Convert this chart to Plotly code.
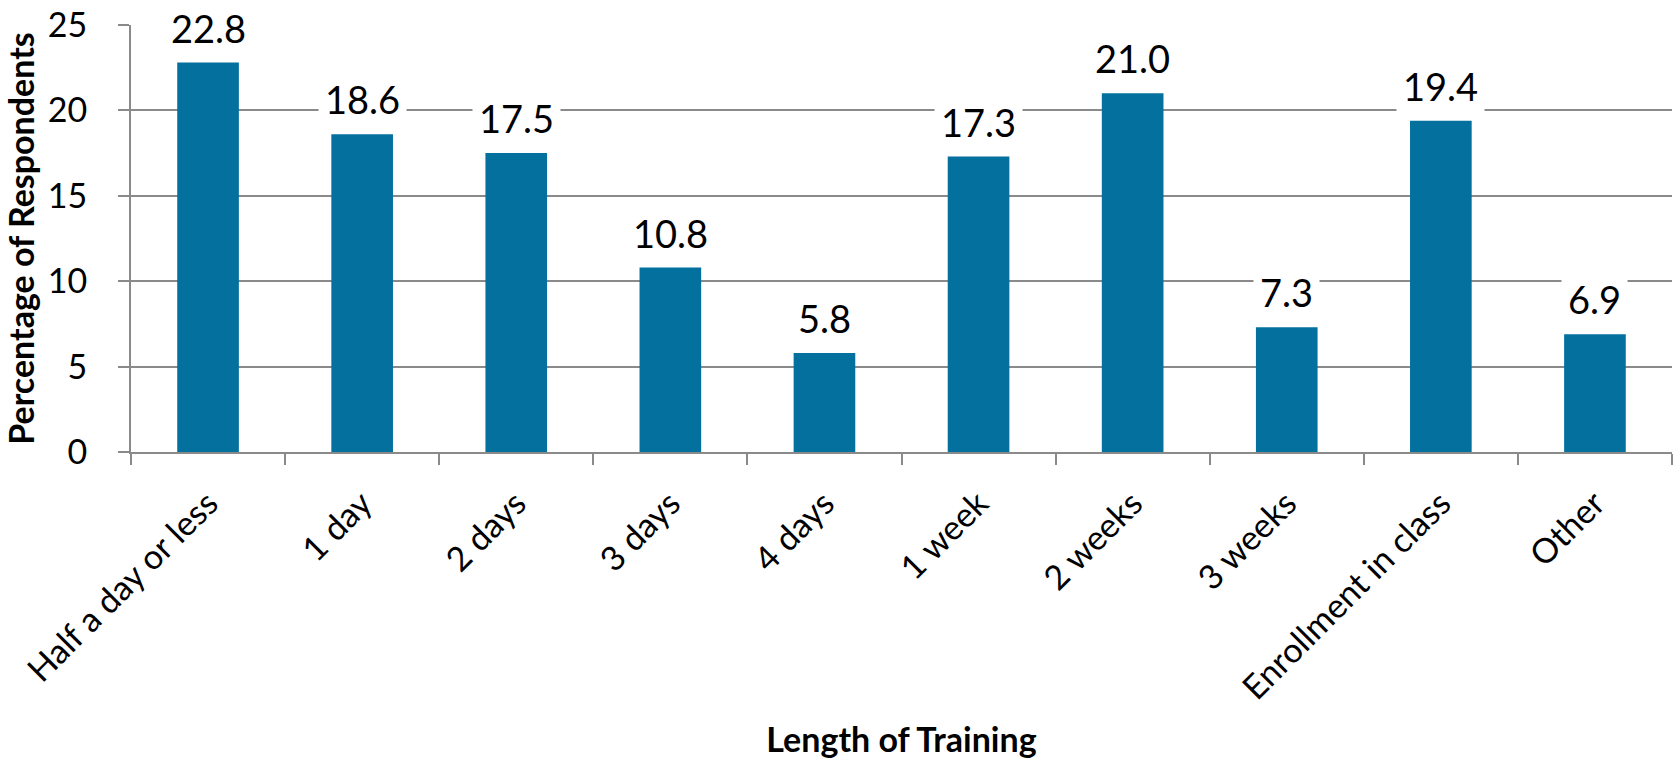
import plotly.graph_objects as go

categories = ["Half a day or less", "1 day", "2 days", "3 days", "4 days",
              "1 week", "2 weeks", "3 weeks", "Enrollment in class", "Other"]
percentages = [22.8, 18.6, 17.5, 10.8, 5.8, 17.3, 21.0, 7.3, 19.4, 6.9]
y_ticks = [0, 5, 10, 15, 20, 25]

BAR_COLOR = "#03709e"
GRID_COLOR = "#8a8a8a"
FONT = "Lato, 'Open Sans', sans-serif"

fig = go.Figure(
    go.Bar(
        x=categories,
        y=percentages,
        marker=dict(color=BAR_COLOR, line=dict(width=0)),
        width=0.4,
        hoverinfo="x+y",
    )
)

# value labels on white boxes so they knock out the gridlines behind them
for cat, val in zip(categories, percentages):
    fig.add_annotation(
        x=cat, y=val, text=f"{val:.1f}", showarrow=False,
        yanchor="bottom", yshift=5,
        font=dict(family=FONT, size=38, color="#000000"),
        bgcolor="#ffffff", borderpad=6,
    )

fig.update_layout(
    width=1675, height=760,
    margin=dict(l=131, r=3, t=23, b=308),
    plot_bgcolor="#ffffff", paper_bgcolor="#ffffff",
    showlegend=False,
    font=dict(family=FONT, color="#000000"),
    bargap=0.6,
)

fig.update_xaxes(
    type="category",
    showline=True, linecolor=GRID_COLOR, linewidth=2,
    ticks="outside", tickson="boundaries", ticklen=11, tickwidth=2, tickcolor=GRID_COLOR,
    tickangle=-45, tickfont=dict(family=FONT, size=34),
    ticklabelstandoff=16,
    showgrid=False,
    title=dict(text="<b>Length of Training</b>", font=dict(family=FONT, size=34), standoff=22),
)

fig.update_yaxes(
    range=[0, 25], tickvals=y_ticks,
    showline=True, linecolor=GRID_COLOR, linewidth=2,
    ticks="outside", ticklen=11, tickwidth=2, tickcolor=GRID_COLOR,
    tickfont=dict(family=FONT, size=34),
    ticklabelstandoff=24,
    showgrid=True, gridcolor=GRID_COLOR, gridwidth=2,
    zeroline=False,
    title=dict(text="<b>Percentage of Respondents</b>", font=dict(family=FONT, size=34), standoff=14),
)

fig.write_html("out.html")
